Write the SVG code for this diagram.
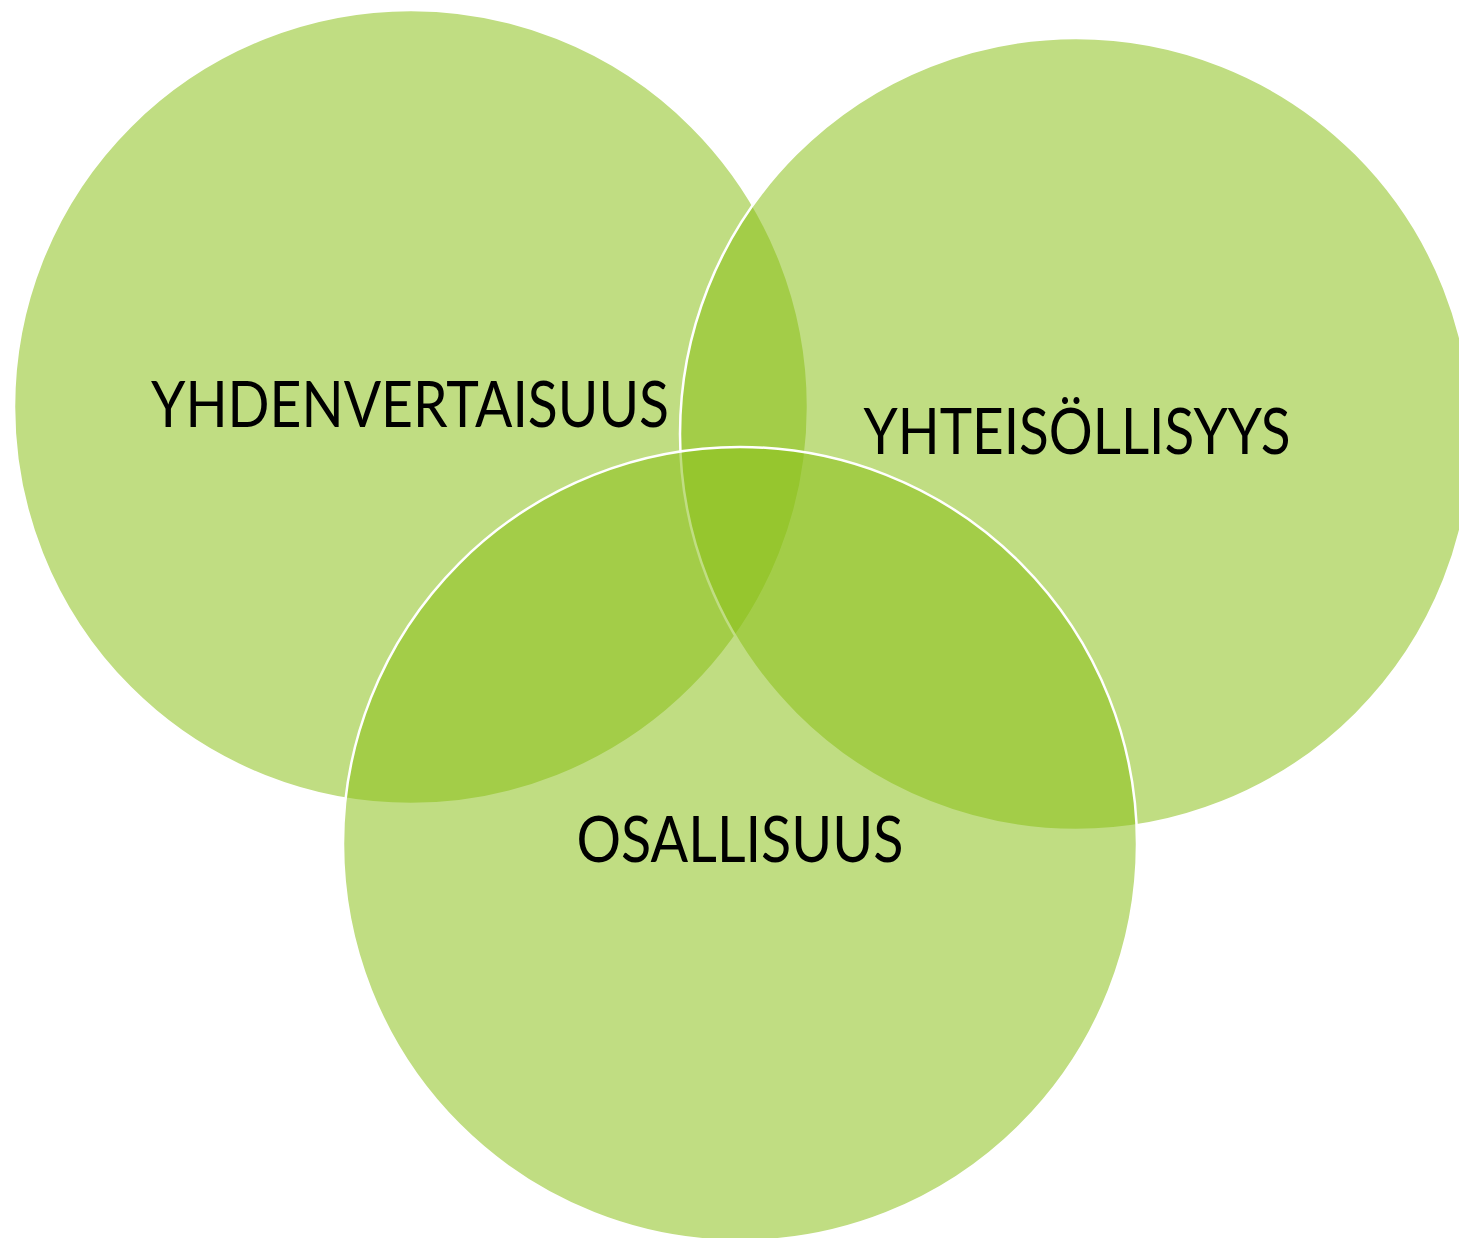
<svg xmlns="http://www.w3.org/2000/svg" width="1459" height="1238" viewBox="0 0 1459 1238">
<style>
.c{fill:#8ac018;fill-opacity:0.54;stroke:#ffffff;stroke-width:2.5}
.t{font-family:Lato,"Open Sans","Liberation Sans",sans-serif;font-size:63px;fill:#000000;text-anchor:middle}
</style>
<rect x="0" y="0" width="1459" height="1238" fill="#ffffff"/>
<g id="yhdenvertaisuus"><circle class="c" cx="411" cy="407" r="397"/></g>
<g id="yhteisollisyys"><circle class="c" cx="1076" cy="434" r="396"/></g>
<g id="osallisuus"><circle class="c" cx="740" cy="844" r="397"/></g>
<g id="labels">
<text class="t" x="410" y="427" textLength="518" lengthAdjust="spacingAndGlyphs">YHDENVERTAISUUS</text>
<text class="t" x="1077" y="454" textLength="427" lengthAdjust="spacingAndGlyphs">YHTEISÖLLISYYS</text>
<text class="t" x="740" y="862" textLength="327" lengthAdjust="spacingAndGlyphs">OSALLISUUS</text>
</g>
<g id="connectors"></g>
</svg>
